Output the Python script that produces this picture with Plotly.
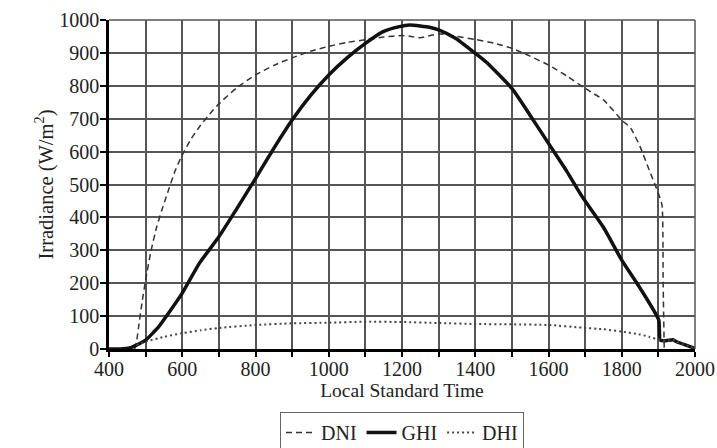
import plotly.graph_objects as go

# ---- data ----
dni_t = [470, 475, 480, 490, 500, 515, 530, 545, 560, 580, 600, 625, 650, 675, 700, 750, 800, 850, 900, 950,
         1000, 1050, 1100, 1150, 1200, 1225, 1250, 1275, 1300, 1350, 1400, 1450, 1500, 1550, 1600, 1650, 1700,
         1750, 1800, 1825, 1850, 1875, 1900, 1910, 1913, 1916]
dni_v = [0, 20, 60, 140, 210, 300, 370, 425, 475, 540, 590, 640, 680, 714, 745, 795, 833, 862, 885, 905,
         920, 932, 940, 948, 953, 950, 946, 952, 958, 950, 941, 930, 914, 890, 863, 830, 792,
         757, 696, 670, 615, 544, 473, 437, 200, 0]

ghi_t = [400, 430, 456, 475, 500, 536, 560, 600, 647, 700, 747, 800, 850, 900, 950, 1000, 1050, 1100, 1147,
         1193, 1221, 1250, 1275, 1300, 1347, 1400, 1429, 1500, 1550, 1600, 1650, 1692, 1750, 1800, 1850, 1901,
         1905, 1920, 1940, 1950, 2000]
ghi_v = [0, 0, 3, 12, 27, 68, 105, 170, 261, 341, 423, 518, 610, 696, 770, 833, 885, 929, 964,
         980, 985, 982, 978, 970, 944, 899, 873, 792, 710, 625, 540, 463, 370, 270, 185, 88,
         27, 25, 28, 22, 2]

dhi_t = [475, 500, 550, 600, 650, 700, 800, 900, 1000, 1100, 1200, 1300, 1400, 1500, 1600, 1692, 1750, 1800,
         1850, 1875, 1905, 1920, 1940, 1950, 2000]
dhi_v = [12, 22, 37, 48, 57, 64, 73, 78, 80, 83, 82, 79, 76, 75, 73, 65, 60, 53,
         44, 37, 27, 25, 28, 22, 2]

x_major = [400, 600, 800, 1000, 1200, 1400, 1600, 1800, 2000]
y_major = [0, 100, 200, 300, 400, 500, 600, 700, 800, 900, 1000]

FONT = "Liberation Serif"
GRID = "#555555"

fig = go.Figure()
fig.add_trace(go.Scatter(x=dni_t, y=dni_v, mode="lines", name="DNI",
                         line=dict(color="#333333", width=1.5, dash="6px,4px",
                                   shape="spline", smoothing=0.5)))
fig.add_trace(go.Scatter(x=ghi_t, y=ghi_v, mode="lines", name="GHI",
                         line=dict(color="#111111", width=3.5, shape="spline", smoothing=0.5)))
fig.add_trace(go.Scatter(x=dhi_t, y=dhi_v, mode="lines", name="DHI",
                         line=dict(color="#444444", width=2, dash="2px,3px",
                                   shape="spline", smoothing=0.5)))

fig.update_layout(
    width=717, height=448,
    margin=dict(l=109, r=22, t=20, b=99, autoexpand=False),
    paper_bgcolor="white", plot_bgcolor="white",
    font=dict(family=FONT, size=19, color="#222222"),
    showlegend=True,
    legend=dict(orientation="h", x=0.5, xanchor="center", yref="container", y=0.0804, yanchor="top",
                bordercolor="#666666", borderwidth=1, font=dict(size=20),
                itemwidth=30, tracegroupgap=0),
    xaxis=dict(range=[400, 2000], tickvals=x_major, showgrid=True, gridcolor=GRID, gridwidth=1.5,
               showline=True, linecolor="black", linewidth=2.5, ticks="outside", ticklen=5,
               tickwidth=1.5, tickcolor="black", zeroline=False, automargin=False,
               ticklabelstandoff=-5,
               minor=dict(dtick=100, showgrid=True, gridcolor=GRID, gridwidth=1.5,
                          ticks="outside", ticklen=5, tickwidth=1.5, tickcolor="black"),
               title=dict(text="Local Standard Time", font=dict(size=19.5), standoff=2),
               tickfont=dict(size=20)),
    yaxis=dict(range=[0, 1000], tickvals=y_major, showgrid=True, gridcolor=GRID, gridwidth=1.5,
               showline=True, linecolor="black", linewidth=2.5, ticks="outside", ticklen=6,
               tickwidth=1.5, tickcolor="black", zeroline=False, automargin=False,
               ticklabelstandoff=-3,
               title=dict(text="Irradiance (W/m<sup>2</sup>)", font=dict(size=20.5), standoff=1),
               tickfont=dict(size=20)),
)
# top and right frame lines (grey like the grid)
fig.add_shape(type="line", xref="paper", yref="paper", x0=0, x1=1, y0=1, y1=1,
              line=dict(color=GRID, width=1.5))
fig.add_shape(type="line", xref="paper", yref="paper", x0=1, x1=1, y0=0, y1=1,
              line=dict(color=GRID, width=1.5))

# remove the default page margin so the 717x448 figure fills the window exactly
fig.write_html("out.html",
               config={"displayModeBar": False},
               post_script="document.body.style.margin='0px';document.body.style.overflow='hidden';")
